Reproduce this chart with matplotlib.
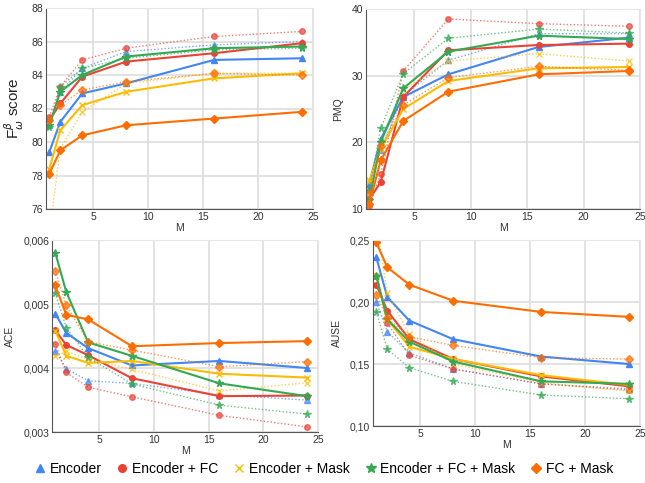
import numpy as np
import matplotlib
matplotlib.use("Agg")
import matplotlib.pyplot as plt
from matplotlib.ticker import FuncFormatter

plt.rcParams['font.family'] = ['Liberation Sans', 'DejaVu Sans']

M = [1, 2, 4, 8, 16, 24]
names = ["Encoder", "Encoder + FC", "Encoder + Mask", "Encoder + FC + Mask", "FC + Mask"]
colors = ["#4285F4", "#EA4335", "#FBBC04", "#34A853", "#FF6D01"]
markers = ["^", "o", "x", "*", "D"]

# F score: solid / dotted per method
f_solid = [
    [79.4, 81.2, 82.9, 83.5, 84.9, 85.0],
    [81.3, 82.3, 83.9, 84.8, 85.3, 85.9],
    [78.4, 80.7, 82.2, 83.0, 83.8, 84.1],
    [81.0, 83.0, 84.0, 85.1, 85.6, 85.7],
    [78.1, 79.5, 80.4, 81.0, 81.4, 81.8],
]
f_dot = [
    [81.0, 83.0, 84.4, 85.4, 85.8, 86.0],
    [81.5, 83.3, 84.9, 85.6, 86.3, 86.6],
    [74.5, 79.6, 81.8, 83.5, 84.1, 84.1],
    [80.9, 83.3, 84.4, 85.0, 85.5, 85.6],
    [81.3, 82.2, 83.1, 83.6, 84.1, 84.0],
]

pmq_solid = [
    [13.8, 20.5, 26.8, 30.2, 34.3, 35.7],
    [11.5, 14.0, 26.8, 33.8, 34.6, 34.8],
    [14.3, 19.0, 25.0, 29.2, 31.1, 31.3],
    [11.3, 20.0, 28.1, 33.6, 36.0, 35.5],
    [10.8, 17.3, 23.2, 27.6, 30.2, 30.7],
]
pmq_dot = [
    [13.0, 18.8, 27.0, 32.3, 36.3, 36.3],
    [10.5, 15.2, 30.7, 38.5, 37.8, 37.4],
    [14.0, 20.0, 27.8, 32.2, 33.3, 32.2],
    [12.8, 22.1, 30.3, 35.6, 37.0, 36.4],
    [12.2, 19.4, 25.6, 29.7, 31.4, 30.8],
]

ace_solid = [
    [0.00485, 0.00455, 0.00431, 0.00404, 0.00411, 0.00400],
    [0.00459, 0.00436, 0.00420, 0.00384, 0.00356, 0.00357],
    [0.00458, 0.00419, 0.00408, 0.00411, 0.00391, 0.00385],
    [0.00580, 0.00519, 0.00440, 0.00419, 0.00376, 0.00356],
    [0.00529, 0.00483, 0.00476, 0.00434, 0.00439, 0.00442],
]
ace_dot = [
    [0.00426, 0.00399, 0.00380, 0.00376, 0.00358, 0.00350],
    [0.00438, 0.00393, 0.00370, 0.00355, 0.00326, 0.00308],
    [0.00418, 0.00426, 0.00414, 0.00398, 0.00364, 0.00377],
    [0.00517, 0.00463, 0.00417, 0.00375, 0.00342, 0.00328],
    [0.00552, 0.00498, 0.00441, 0.00428, 0.00402, 0.00410],
]

ause_solid = [
    [0.236, 0.204, 0.185, 0.170, 0.156, 0.150],
    [0.214, 0.193, 0.170, 0.154, 0.140, 0.132],
    [0.221, 0.186, 0.164, 0.154, 0.141, 0.133],
    [0.221, 0.186, 0.168, 0.152, 0.136, 0.134],
    [0.248, 0.228, 0.214, 0.201, 0.192, 0.188],
]
ause_dot = [
    [0.200, 0.176, 0.159, 0.146, 0.134, 0.130],
    [0.221, 0.183, 0.157, 0.146, 0.134, 0.129],
    [0.262, 0.207, 0.174, 0.150, 0.135, 0.128],
    [0.192, 0.162, 0.147, 0.136, 0.125, 0.122],
    [0.206, 0.187, 0.172, 0.165, 0.155, 0.154],
]

fig = plt.figure(figsize=(6.45, 4.83), dpi=100)
W, H = 645, 483

def make_ax(l, r, t, b):
    return fig.add_axes([l / W, 1 - b / H, (r - l) / W, (b - t) / H])

panels = [
    (make_ax(46, 313, 8, 209), f_solid, f_dot, (76, 88), [76, 78, 80, 82, 84, 86, 88], r"F$^{\beta}_{\omega}$ score", None),
    (make_ax(366, 640, 9, 209), pmq_solid, pmq_dot, (10, 40), [10, 20, 30, 40], "PMQ", None),
    (make_ax(52, 318, 240, 432), ace_solid, ace_dot, (0.003, 0.006), [0.003, 0.004, 0.005, 0.006], "ACE", 3),
    (make_ax(373, 640, 240, 426), ause_solid, ause_dot, (0.10, 0.25), [0.10, 0.15, 0.20, 0.25], "AUSE", 2),
]

for ax, solid, dot, ylim, yticks, ylabel, dec in panels:
    for i in range(5):
        ms = 4 if markers[i] != "*" else 5.5
        ax.plot(M, dot[i], color=colors[i], marker=markers[i], ls=(0, (1, 1.5)), lw=1,
                ms=ms, alpha=0.7, mew=1, clip_on=True)
        ax.plot(M, solid[i], color=colors[i], marker=markers[i], ls="-", lw=1.5,
                ms=ms, mew=1, clip_on=True)
    ax.set_xlim(0.7, 25)
    ax.set_ylim(*ylim)
    ax.set_xticks([5, 10, 15, 20, 25])
    ax.set_yticks(yticks)
    if dec is not None:
        ax.yaxis.set_major_formatter(FuncFormatter(lambda v, p, d=dec: f"{v:.{d}f}".replace(".", ",")))
    ax.grid(True, color="#dddddd", lw=1.2)
    ax.set_axisbelow(True)
    for s in ["top", "right"]:
        ax.spines[s].set_color("#e6e6e6")
    for s in ["left", "bottom"]:
        ax.spines[s].set_color("#555555")
    ax.tick_params(length=0, labelsize=7.5, colors="#333333", pad=2)
    ax.set_xlabel("M", fontsize=7.5, color="#333333", labelpad=1)
    if ax is panels[0][0]:
        ax.set_ylabel(ylabel, fontsize=11, color="#222222", labelpad=4)
    else:
        ax.set_ylabel(ylabel, fontsize=7.5, color="#333333", labelpad=6)

handles = []
for i in range(5):
    ms = 5.5 if markers[i] != "*" else 7.5
    h, = plt.plot([], [], color=colors[i], marker=markers[i], ls="none", ms=ms)
    handles.append(h)
fig.legend(handles, names, loc="center", bbox_to_anchor=(0.5, 1 - 469 / H), ncol=5,
           frameon=False, fontsize=10, handletextpad=0.1, columnspacing=0.9, handlelength=1.2)

fig.savefig("out.png", dpi=100)
